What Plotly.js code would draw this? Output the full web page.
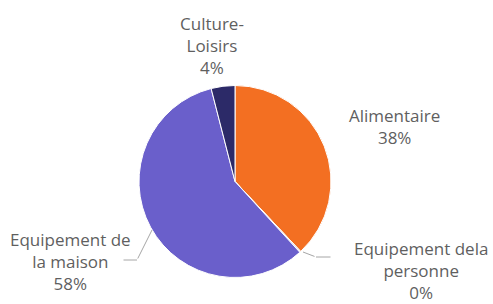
<!DOCTYPE html>
<html>
<head>
<meta charset="utf-8">
<script src="https://cdn.plot.ly/plotly-3.0.1.min.js"></script>
<style>html,body{margin:0;padding:0;background:#fff;}#chart{width:493px;height:304px;}</style>
</head>
<body>
<div id="chart"></div>
<script>
var categories = ["Alimentaire", "Equipement de la personne", "Equipement de la maison", "Culture-Loisirs"];
var values = [38, 0.2, 57.8, 4];
var labelTexts = ["Alimentaire<br>38%", "Equipement dela<br>personne<br>0%", "Equipement de<br>la maison<br>58%", "Culture-<br>Loisirs<br>4%"];
var colors = ["#F36F22", "#C9C9D6", "#6A5FCB", "#2C2A68"];

var W = 493, H = 304;
function px(x){ return x / W; }
function py(y){ return 1 - y / H; }

var trace = {
  type: "pie",
  labels: categories,
  values: values,
  sort: false,
  direction: "clockwise",
  rotation: 0,
  textinfo: "none",
  hoverinfo: "label+percent",
  marker: { colors: colors, line: { color: "#ffffff", width: 1 } },
  domain: { x: [px(139), px(331)], y: [py(277.5), py(85.5)] },
  showlegend: false
};

var font = { family: "'Open Sans', sans-serif", size: 17, color: "#5f5f5f" };
var labelPos = [[394, 126], [421, 270], [70, 261], [212, 45]];
var annotations = [];
for (var i = 0; i < labelTexts.length; i++) {
  annotations.push({
    xref: "paper", yref: "paper",
    x: px(labelPos[i][0]), y: py(labelPos[i][1]),
    xanchor: "center", yanchor: "middle",
    text: labelTexts[i], showarrow: false, font: font, align: "center"
  });
}
// leader lines
var leaders = [
  [152, 230, -15, 30], [137, 260, -15, 0],
  [303, 252, 13, 5], [316, 257, 16, 0]
];
leaders.forEach(function(l){
  annotations.push({
    xref: "paper", yref: "paper", x: px(l[0]), y: py(l[1]),
    ax: l[2], ay: l[3], text: "", showarrow: true, arrowhead: 0,
    arrowwidth: 1, arrowcolor: "#A6A6A6", standoff: 0, startstandoff: 0
  });
});

var layout = {
  width: W, height: H,
  margin: { l: 0, r: 0, t: 0, b: 0 },
  paper_bgcolor: "#ffffff",
  annotations: annotations
};
Plotly.newPlot("chart", [trace], layout, { displayModeBar: false, staticPlot: true });
</script>
</body>
</html>
